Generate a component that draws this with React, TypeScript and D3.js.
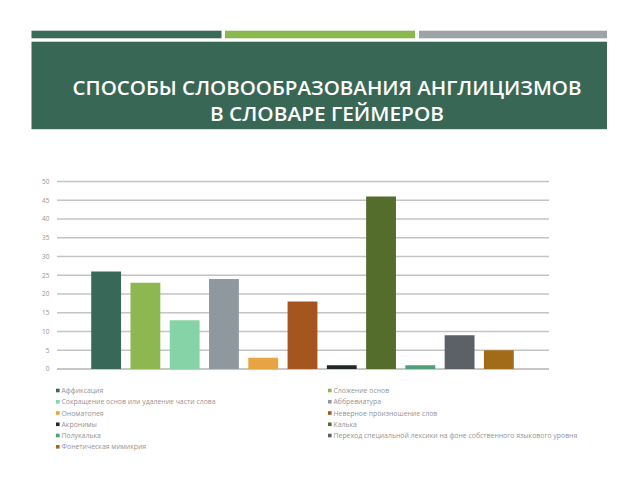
import React from "react";
import * as d3 from "d3";

const categories = [
  "Аффиксация",
  "Сложение основ",
  "Сокращение основ или удаление части слова",
  "Аббревиатура",
  "Ономатопея",
  "Неверное произношение слов",
  "Акронимы",
  "Калька",
  "Полукалька",
  "Переход специальной лексики на фоне собственного языкового уровня",
  "Фонетическая мимикрия",
];
const values = [26, 23, 13, 24, 3, 18, 1, 46, 1, 9, 5];
const colors = [
  "#376858", "#8db750", "#86d3a8", "#8f989f", "#e8a442", "#a5561f",
  "#1e2a24", "#556d2c", "#4f9f7b", "#5b6167", "#a26b1a",
];
const yTicks = [0, 5, 10, 15, 20, 25, 30, 35, 40, 45, 50];
const titleLines = ["СПОСОБЫ СЛОВООБРАЗОВАНИЯ АНГЛИЦИЗМОВ", "В СЛОВАРЕ ГЕЙМЕРОВ"];

export default function App() {
  const y = d3.scaleLinear().domain([0, 50]).range([369, 181.5]);
  const x = d3
    .scaleBand<string>()
    .domain(categories)
    .range([86.5, 518.5])
    .paddingInner(0.24)
    .paddingOuter(0.12);
  const gridX0 = 57;
  const gridX1 = 549;
  const legendRows = Math.ceil(categories.length / 2);
  const legendY = d3.scaleLinear().domain([0, legendRows - 1]).range([390.7, 447]);
  const legendX = [56, 328];

  return (
    <svg
      width={640}
      height={480}
      style={{ position: "absolute", left: 0, top: 0 }}
      xmlns="http://www.w3.org/2000/svg"
    >
      <rect x={0} y={0} width={640} height={480} fill="#ffffff" />
      {/* header stripes */}
      <rect x={31.5} y={30.7} width={190} height={7.6} fill="#3a6a58" />
      <rect x={225} y={30.7} width={190} height={7.6} fill="#8bb84e" />
      <rect x={419} y={30.7} width={188} height={7.6} fill="#9ea3a8" />
      {/* header box */}
      <rect x={31.5} y={41.7} width={575.5} height={87.5} fill="#386756" />
      <text
        x={327}
        y={95}
        textAnchor="middle"
        fill="#ffffff"
        fontFamily="'Open Sans', Lato, sans-serif"
        fontWeight={600}
        fontSize={20}
        textLength={509}
        lengthAdjust="spacingAndGlyphs"
      >
        {titleLines[0]}
      </text>
      <text
        x={327}
        y={121}
        textAnchor="middle"
        fill="#ffffff"
        fontFamily="'Open Sans', Lato, sans-serif"
        fontWeight={600}
        fontSize={20}
        textLength={234}
        lengthAdjust="spacingAndGlyphs"
      >
        {titleLines[1]}
      </text>

      {/* grid */}
      {yTicks.map((t) => (
        <g key={t}>
          <line
            x1={gridX0}
            x2={gridX1}
            y1={y(t)}
            y2={y(t)}
            stroke={t === 0 ? "#b5b5b5" : "#c4c4c4"}
            strokeWidth={1.5}
          />
          <text
            x={49.5}
            y={y(t)}
            dy="0.35em"
            textAnchor="end"
            fill="#959595"
            fontFamily="'Open Sans', sans-serif"
            fontSize={6.5}
          >
            {t}
          </text>
        </g>
      ))}

      {/* bars */}
      {categories.map((c, i) => (
        <rect
          key={c}
          x={x(c)}
          y={y(values[i])}
          width={x.bandwidth()}
          height={y(0) - y(values[i])}
          fill={colors[i]}
        />
      ))}

      {/* legend */}
      {categories.map((c, i) => {
        const col = i % 2;
        const row = Math.floor(i / 2);
        const lx = legendX[col];
        const ly = legendY(row);
        return (
          <g key={"lg" + c}>
            <rect x={lx} y={ly - 2} width={3.6} height={3.6} fill={colors[i]} />
            <text
              x={lx + 5.5}
              y={ly}
              dy="0.35em"
              fill="#959595"
              fontFamily="'Open Sans', sans-serif"
              fontSize={6.9}
            >
              {c}
            </text>
          </g>
        );
      })}
    </svg>
  );
}
